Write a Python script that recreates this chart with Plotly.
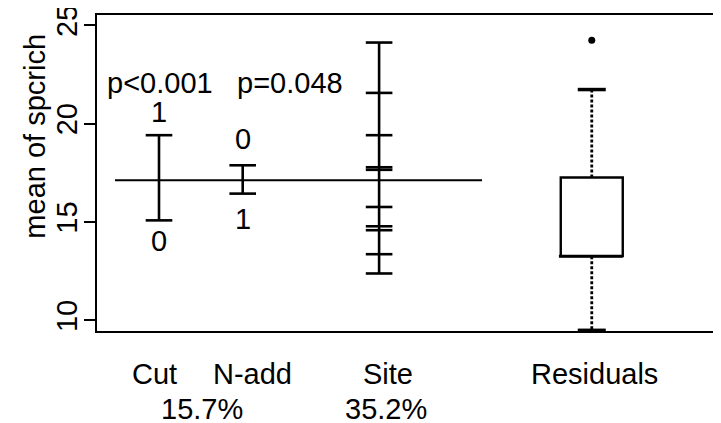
import plotly.graph_objects as go

# ---------------- data ----------------
column_labels = ["Cut", "N-add", "Site", "Residuals"]
level_labels = ["0", "1"]
cut_means = [15.08, 19.41]          # level 0, level 1
nadd_means = [17.88, 16.44]         # level 0, level 1
site_means = [24.12, 21.56, 19.41, 17.78, 17.65, 15.76, 14.78, 14.58, 13.36, 12.38]
grand_mean = 17.12
resid_q1 = 13.26
resid_median = 13.26
resid_q3 = 17.26
resid_lower_whisker = 9.49
resid_upper_whisker = 21.73
resid_outliers = [24.24]
p_values = ["p<0.001", "p=0.048"]
variance_explained = ["15.7%", "35.2%"]
y_ticks = [10, 15, 20, 25]
y_title = "mean of spcrich"

# ---------------- layout constants ----------------
# the page body has an 8px margin, so the figure is drawn 8px smaller
FONT = "Liberation Sans, Arial, Helvetica, sans-serif"
FS = 29
XPOS = {"Cut": 1.0, "N-add": 2.35, "Site": 4.55, "Residuals": 7.98}
LABEL_X = {"Cut": 0.935, "N-add": 2.516, "Site": 4.69, "Residuals": 8.03}
PCT_X = [1.70, 4.66]
P_X = [1.016, 3.11]
P_Y = 22.05
MEAN_LINE_X = [0.29, 6.21]
BOX_HW = 0.5
CAP_HW = 0.226
LW = 2.6

fig = go.Figure()

# grand mean line
fig.add_trace(go.Scatter(x=MEAN_LINE_X, y=[grand_mean, grand_mean], mode="lines",
                         line=dict(color="black", width=2.2), hoverinfo="skip"))

def bar_trace(xc, values):
    vals = sorted(values)
    return go.Scatter(x=[xc] * len(vals), y=vals, mode="lines+markers",
                      line=dict(color="black", width=LW),
                      marker=dict(symbol="line-ew", size=19, color="black",
                                  line=dict(color="black", width=LW)),
                      cliponaxis=False)

fig.add_trace(bar_trace(XPOS["Cut"], cut_means))
fig.add_trace(bar_trace(XPOS["N-add"], nadd_means))
fig.add_trace(bar_trace(XPOS["Site"], site_means))

# residual boxplot
xc = XPOS["Residuals"]
xl, xr = xc - BOX_HW, xc + BOX_HW
fig.add_trace(go.Scatter(x=[xl, xr, xr, xl, xl], y=[resid_q1, resid_q1, resid_q3, resid_q3, resid_q1],
                         mode="lines", line=dict(color="black", width=2.4)))
fig.add_trace(go.Scatter(x=[xl - 0.03, xr], y=[resid_median, resid_median], mode="lines",
                         line=dict(color="black", width=3)))
for a, b in [(resid_q3, resid_upper_whisker), (resid_q1, resid_lower_whisker)]:
    fig.add_trace(go.Scatter(x=[xc, xc], y=[a, b], mode="lines",
                             line=dict(color="black", width=2.8, dash="3px,2px")))
for w in [resid_upper_whisker, resid_lower_whisker]:
    fig.add_trace(go.Scatter(x=[xc - CAP_HW, xc + CAP_HW], y=[w, w], mode="lines",
                             line=dict(color="black", width=3.5), cliponaxis=False))
fig.add_trace(go.Scatter(x=[xc] * len(resid_outliers), y=resid_outliers, mode="markers",
                         marker=dict(symbol="circle", size=7, color="black")))

ann = []
ann.append(dict(x=XPOS["Cut"], y=20.6, text=level_labels[1]))
ann.append(dict(x=XPOS["Cut"], y=14.02, text=level_labels[0]))
ann.append(dict(x=XPOS["N-add"], y=19.2, text=level_labels[0]))
ann.append(dict(x=XPOS["N-add"], y=15.13, text=level_labels[1]))
for px, pt in zip(P_X, p_values):
    ann.append(dict(x=px, y=P_Y, text=pt))
annotations = []
for a in ann:
    annotations.append(dict(x=a["x"], y=a["y"], xref="x", yref="y", text=a["text"],
                            showarrow=False, xanchor="center", yanchor="middle",
                            font=dict(family=FONT, size=FS, color="black")))
for lab in column_labels:
    annotations.append(dict(x=LABEL_X[lab], y=-0.136, xref="x", yref="paper", text=lab,
                            showarrow=False, xanchor="center", yanchor="middle",
                            font=dict(family=FONT, size=FS, color="black")))
for px, pt in zip(PCT_X, variance_explained):
    annotations.append(dict(x=px, y=-0.247, xref="x", yref="paper", text=pt,
                            showarrow=False, xanchor="center", yanchor="middle",
                            font=dict(family=FONT, size=FS, color="black")))
# y-axis title
annotations.append(dict(x=-0.1, y=0.615, xref="paper", yref="paper", text=y_title,
                        textangle=-90, showarrow=False, xanchor="center", yanchor="middle",
                        font=dict(family=FONT, size=29, color="black")))

fig.update_layout(
    width=713, height=415,
    margin=dict(l=89, r=4, t=7, b=92, autoexpand=False),
    paper_bgcolor="white", plot_bgcolor="white",
    showlegend=False,
    annotations=annotations,
    font=dict(family=FONT, size=FS, color="black"),
    xaxis=dict(range=[0, 10], showgrid=False, zeroline=False, showticklabels=False,
               showline=True, mirror=True, linecolor="black", linewidth=2, ticks="",
               automargin=False),
    yaxis=dict(range=[9.456, 25.52], tickvals=y_ticks, ticktext=[str(t) for t in y_ticks],
               ticks="outside", ticklen=11, tickwidth=2, tickcolor="black", tickangle=-90,
               ticklabelstandoff=-5, ticklabeloverflow="allow",
               tickfont=dict(family=FONT, size=FS, color="black"),
               showgrid=False, zeroline=False, automargin=False,
               showline=True, mirror=True, linecolor="black", linewidth=2),
)

fig.write_html("out.html")
